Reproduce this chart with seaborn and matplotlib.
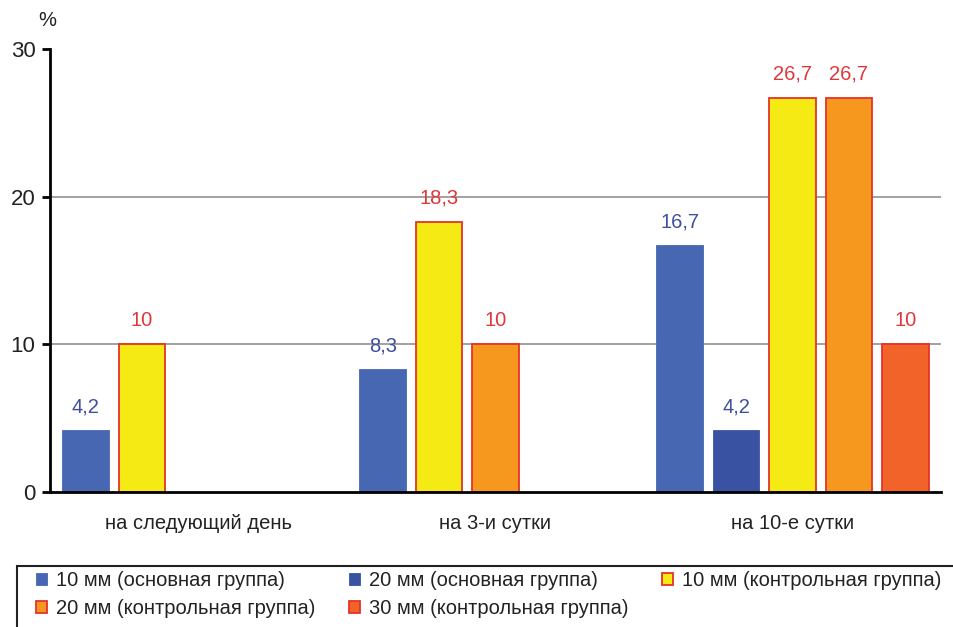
import matplotlib
matplotlib.use("Agg")
import matplotlib.pyplot as plt
from matplotlib.patches import Patch, Rectangle
import pandas as pd
import seaborn as sns

# Data: share of patients (%) by observation day and mesh size / group
periods = ["на следующий день", "на 3-и сутки", "на 10-е сутки"]
series = [
    "10 мм (основная группа)",
    "20 мм (основная группа)",
    "10 мм (контрольная группа)",
    "20 мм (контрольная группа)",
    "30 мм (контрольная группа)",
]
main_10 = [4.2, 8.3, 16.7]
main_20 = [0, 0, 4.2]
ctrl_10 = [10, 18.3, 26.7]
ctrl_20 = [0, 10, 26.7]
ctrl_30 = [0, 0, 10]
yticks = [0, 10, 20, 30]

fills = ["#4767B3", "#3A52A2", "#F5EA14", "#F7981E", "#F2632A"]
edges = ["#4767B3", "#3A52A2", "#E5332A", "#E5332A", "#E5332A"]
label_colors = ["#3E509E", "#3E509E", "#E0383A", "#E0383A", "#E0383A"]

# Long table; zero values are omitted and the remaining bars of a period
# occupy consecutive slots from the left.
rows = []
for pi, period in enumerate(periods):
    slot = 0
    for si, vals in enumerate([main_10, main_20, ctrl_10, ctrl_20, ctrl_30]):
        if vals[pi] > 0:
            rows.append({"period": period, "series": si, "slot": slot, "value": vals[pi]})
            slot += 1
df = pd.DataFrame(rows)

sns.set_theme(style="white")
plt.rcParams["font.family"] = ["Liberation Sans", "DejaVu Sans"]

FS = 14.5
TXT = "#222222"

fig = plt.figure(figsize=(9.54, 6.27), dpi=100)
ax = fig.add_axes([50 / 954, 1 - 492 / 627, (941 - 50) / 954, (492 - 49) / 627])

sns.barplot(
    data=df, x="period", y="value", hue="slot", order=periods,
    hue_order=[0, 1, 2, 3, 4], width=0.95, gap=0.17, dodge=True,
    errorbar=None, legend=False, ax=ax, zorder=2,
)

lookup = {(r.period, r.slot): r for r in df.itertuples()}
for k, cont in enumerate(ax.containers):
    for bar in cont:
        h = bar.get_height()
        if not h or h != h:
            continue
        gi = int(round(bar.get_x() + bar.get_width() / 2))
        r = lookup[(periods[gi], k)]
        bar.set_facecolor(fills[r.series])
        bar.set_edgecolor(edges[r.series])
        bar.set_linewidth(1.3 if r.series >= 2 else 0.6)
        txt = f"{r.value:g}".replace(".", ",")
        ax.annotate(txt, (bar.get_x() + bar.get_width() / 2, h),
                    xytext=(0, 10), textcoords="offset points",
                    ha="center", va="bottom", fontsize=FS,
                    color=label_colors[r.series])

for g in [10, 20]:
    ax.axhline(g, color="#9a9a9a", lw=1.3, zorder=0)

ax.set_xlim(-0.5, 2.5)
ax.set_ylim(0, 30)
ax.set_yticks(yticks)
ax.set_yticklabels([str(t) for t in yticks], fontsize=FS + 1.5, color=TXT)
ax.set_xticks(range(len(periods)))
ax.set_xticklabels(periods, fontsize=FS, color=TXT)
ax.set_xticks([-0.5, 0.5, 1.5, 2.5], minor=True)
ax.tick_params(axis="x", which="major", length=0, pad=15.5)
ax.tick_params(axis="x", which="minor", length=6, width=2, direction="out", color="black")
ax.tick_params(axis="y", length=6, width=2, direction="out", color="black", pad=4.5, left=True)
ax.set_xlabel("")
ax.set_ylabel("")
sns.despine(ax=ax)
for side in ["left", "bottom"]:
    ax.spines[side].set_color("black")
    ax.spines[side].set_linewidth(2)

fig.text(38 / 954, 1 - 21 / 627, "%", fontsize=FS, ha="left", va="center", color=TXT)

# Legend box runs off the right and bottom edges of the figure
fig.patches.append(Rectangle((17 / 954, -0.05), 1.0, 1 - 566 / 627 + 0.05,
                             transform=fig.transFigure, fill=False,
                             edgecolor=TXT, linewidth=1.5))

handles = [Patch(facecolor=fills[i], edgecolor=edges[i], linewidth=1.3 if i >= 2 else 0.6)
           for i in range(len(series))]
order = [0, 3, 1, 4, 2]
leg = fig.legend(
    [handles[i] for i in order], [series[i] for i in order],
    ncol=3, loc="upper left", bbox_to_anchor=(36 / 954, 1 - 571 / 627),
    fontsize=FS, frameon=False, handlelength=0.55,
    handleheight=0.5, handletextpad=0.45, columnspacing=1.65,
    labelspacing=0.45, borderpad=0, borderaxespad=0,
)
for t in leg.get_texts():
    t.set_color(TXT)

fig.savefig("out.png", dpi=100)
